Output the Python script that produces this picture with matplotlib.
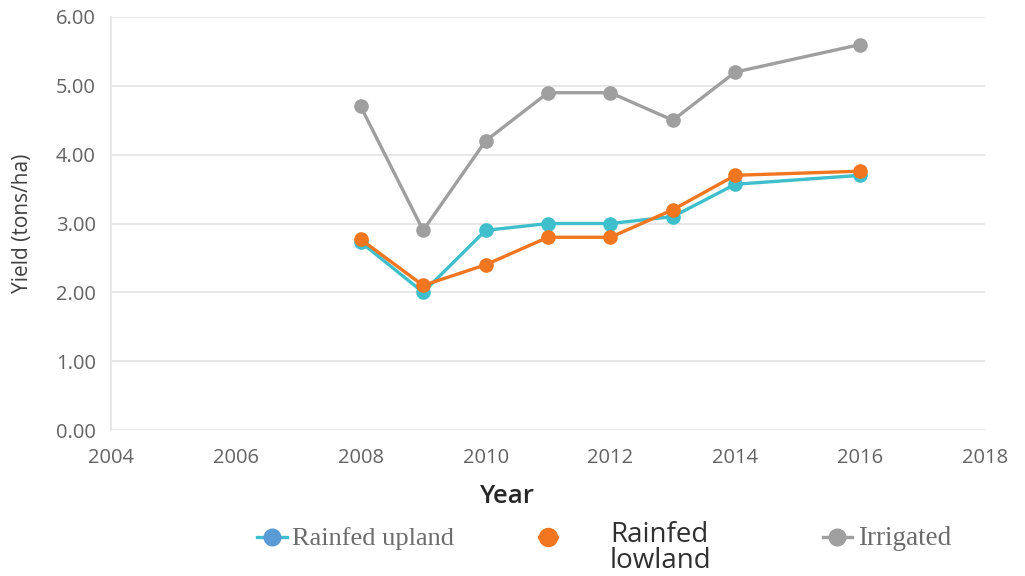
import matplotlib
matplotlib.use("Agg")
import matplotlib.pyplot as plt
from matplotlib.lines import Line2D

# data
years = [2008, 2009, 2010, 2011, 2012, 2013, 2014, 2016]
upland = [2.73, 2.00, 2.90, 3.00, 3.00, 3.10, 3.57, 3.70]
lowland = [2.77, 2.10, 2.40, 2.80, 2.80, 3.20, 3.70, 3.76]
irrigated = [4.70, 2.90, 4.20, 4.90, 4.90, 4.50, 5.20, 5.60]

x_ticks = [2004, 2006, 2008, 2010, 2012, 2014, 2016, 2018]
y_ticks = [0, 1, 2, 3, 4, 5, 6]

c_up = "#3fbfcb"
c_low = "#f1761f"
c_irr = "#9f9f9f"

W, H = 1025, 576

plt.rcParams['font.family'] = ['Open Sans', 'DejaVu Sans']

fig = plt.figure(figsize=(W / 100, H / 100), dpi=100)
ax = fig.add_axes([111 / W, 1 - 430 / H, 874 / W, 413 / H])

ax.plot(years, irrigated, color=c_irr, lw=2.4, marker="o", ms=9.5)
ax.plot(years, upland, color=c_up, lw=2.4, marker="o", ms=9.5)
ax.plot(years, lowland, color=c_low, lw=2.4, marker="o", ms=9.5)

ax.set_xlim(2004, 2018)
ax.set_ylim(0, 6)
ax.set_xticks(x_ticks)
ax.set_yticks(y_ticks)
ax.set_yticklabels(["%.2f" % v for v in y_ticks])
ax.tick_params(length=0, labelsize=14.5, colors="#636363")
ax.tick_params(axis="y", pad=11)
ax.tick_params(axis="x", pad=13)
ax.grid(axis="y", color="#e6e6e6", lw=1.3)
ax.set_axisbelow(True)
for s in ["top", "right", "bottom"]:
    ax.spines[s].set_visible(False)
ax.spines["left"].set_color("#e6e6e6")
ax.spines["left"].set_linewidth(1.3)

ax.set_ylabel("Yield (tons/ha)", fontsize=15, color="#404040")
ax.yaxis.set_label_coords((33 - 111) / 874, 0.5)
ax.set_xlabel("Year", fontsize=18.5, color="#262626", fontweight="semibold")
ax.xaxis.set_label_coords((507 - 111) / 874, (430 - 484) / 413)


# hand-made legend (entries use different fonts / offsets in the original)
def fx(px):
    return px / W


def fy(py):
    return 1 - py / H


def key(x0, x1, xm, col, mcol, ms):
    fig.add_artist(Line2D([fx(x0), fx(x1)], [fy(537), fy(537)],
                          transform=fig.transFigure, color=col, lw=2.4))
    fig.add_artist(Line2D([fx(xm)], [fy(537)], transform=fig.transFigure,
                          marker="o", ms=ms, color=mcol, lw=0))


key(257, 287, 272, c_up, "#5b9bd5", 12)
key(539, 557, 548, c_low, c_low, 13)
key(823, 852, 837, c_irr, c_irr, 12)

fig.text(fx(292), fy(545), "Rainfed upland", family="Liberation Serif",
         fontsize=19, color="#6b6b6b", va="baseline", ha="left")
fig.text(fx(610), fy(542), "Rainfed", fontsize=20, color="#303030",
         va="baseline", ha="left")
fig.text(fx(610), fy(568), "lowland", fontsize=20, color="#303030",
         va="baseline", ha="left")
fig.text(fx(858), fy(545), "Irrigated", family="Liberation Serif",
         fontsize=19.5, color="#6b6b6b", va="baseline", ha="left")

fig.savefig("out.png", dpi=100)
